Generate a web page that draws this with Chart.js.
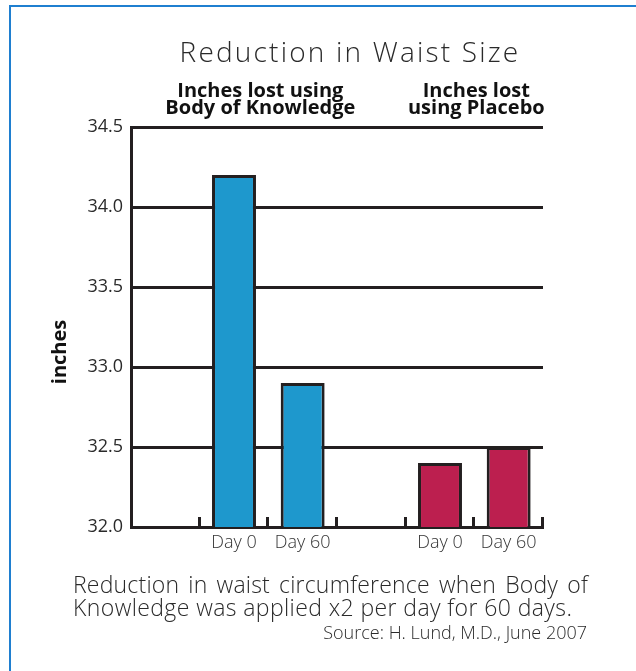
<!DOCTYPE html>
<html>
<head>
<meta charset="utf-8">
<script src="https://cdn.jsdelivr.net/npm/chart.js@4.4.1/dist/chart.umd.min.js"></script>
<style>
  html, body { margin: 0; padding: 0; background: #fff; }
  body { width: 636px; height: 671px; position: relative; overflow: hidden; font-family: "Open Sans", sans-serif; color: #2a2a2a; }
  #frame { position: absolute; left: 9px; top: 5px; width: 700px; height: 700px; border-left: 2px solid #1f7fd0; border-top: 2px solid #1f7fd0; box-sizing: border-box; }
  #chart { position: absolute; left: 0; top: 0; }
  #title { position: absolute; left: 100px; width: 500px; top: 33px; text-align: center; font-size: 28px; font-weight: 300; letter-spacing: 2.2px; line-height: 36px; }
  .cap { position: absolute; left: 73px; width: 515px; font-size: 23px; font-weight: 300; line-height: 23px; white-space: nowrap; letter-spacing: 0.4px; }
  #cap1 { top: 573px; text-align: justify; text-align-last: justify; white-space: normal; letter-spacing: 0.2px; }
  #cap2 { top: 596px; }
  #src { position: absolute; right: 49px; top: 621px; font-size: 18px; font-weight: 300; line-height: 22px; }
</style>
</head>
<body>
<div id="frame"></div>
<canvas id="chart" width="636" height="671"></canvas>
<div id="title">Reduction in Waist Size</div>
<div class="cap" id="cap1">Reduction in waist circumference when Body of</div>
<div class="cap" id="cap2">Knowledge was applied x2 per day for 60 days.</div>
<div id="src">Source: H. Lund, M.D., June 2007</div>
<script>
// ---- data ----
const categories = ["", "Day 0", "Day 60", "", "Day 0", "Day 60"];
const waistInches = [null, 34.2, 32.9, null, 32.4, 32.5];
const barColors = ["#1e98cd", "#1e98cd", "#1e98cd", "#bc1f4f", "#bc1f4f", "#bc1f4f"];
const yTickValues = [32.0, 32.5, 33.0, 33.5, 34.0, 34.5];
const groupLabels = [
  { lines: ["Inches lost using", "Body of Knowledge"], cats: [1, 2], shift: -8 },
  { lines: ["Inches lost", "using Placebo"], cats: [4, 5], shift: 2 }
];
const yTitle = "inches";

const INK = "#231f20";
const TEXT = "#2a2a2a";

const decorPlugin = {
  id: "decor",
  afterDatasetsDraw(chart) {
    const ctx = chart.ctx;
    const x = chart.scales.x, y = chart.scales.y;
    const n = categories.length;
    const step = (x.right - x.left) / n;
    ctx.save();
    ctx.strokeStyle = INK;
    ctx.lineWidth = 3;
    for (let i = 1; i <= n; i++) {
      const px = Math.round(x.left + i * step) - 0.5;
      ctx.beginPath();
      ctx.moveTo(px, y.bottom);
      ctx.lineTo(px, y.bottom - 10);
      ctx.stroke();
    }
    ctx.restore();
  },
  afterDraw(chart) {
    const ctx = chart.ctx;
    const x = chart.scales.x;
    ctx.save();
    ctx.fillStyle = "#111";
    ctx.font = "bold 20px 'Open Sans'";
    ctx.textAlign = "center";
    ctx.textBaseline = "middle";
    groupLabels.forEach(g => {
      const cx = (x.getPixelForValue(g.cats[0]) + x.getPixelForValue(g.cats[1])) / 2 + g.shift;
      g.lines.forEach((ln, i) => ctx.fillText(ln, cx, 91 + i * 17));
    });
    ctx.translate(60, 352);
    ctx.rotate(-Math.PI / 2);
    ctx.font = "bold 20px 'Open Sans'";
    ctx.fillText(yTitle, 0, 0);
    ctx.restore();
  }
};

new Chart(document.getElementById("chart"), {
  type: "bar",
  data: {
    labels: categories,
    datasets: [{
      data: waistInches,
      backgroundColor: barColors,
      borderColor: INK,
      borderWidth: 3,
      borderSkipped: false,
      barPercentage: 0.64,
      categoryPercentage: 1.0
    }]
  },
  options: {
    responsive: false,
    devicePixelRatio: 1,
    animation: false,
    layout: { padding: { top: 127, right: 93, bottom: 0, left: 0 } },
    plugins: { legend: { display: false }, title: { display: false }, tooltip: { enabled: false } },
    scales: {
      x: {
        grid: { display: false, drawTicks: false },
        border: { display: true, color: INK, width: 3 },
        ticks: { color: "#333", font: { family: "Open Sans", size: 18, weight: 300 }, padding: 5, maxRotation: 0, autoSkip: false },
        afterFit(s) { s.height = 144; }
      },
      y: {
        min: 32, max: 34.5,
        afterBuildTicks(s) { s.ticks = yTickValues.map(v => ({ value: v })); },
        grid: { color: INK, lineWidth: 3, drawTicks: false },
        border: { display: true, color: INK, width: 3 },
        ticks: { color: TEXT, font: { family: "Open Sans", size: 18, weight: 400 }, padding: 8, callback: v => Number(v).toFixed(1) },
        afterFit(s) { s.width = 131; }
      }
    }
  },
  plugins: [decorPlugin]
});
</script>
</body>
</html>
